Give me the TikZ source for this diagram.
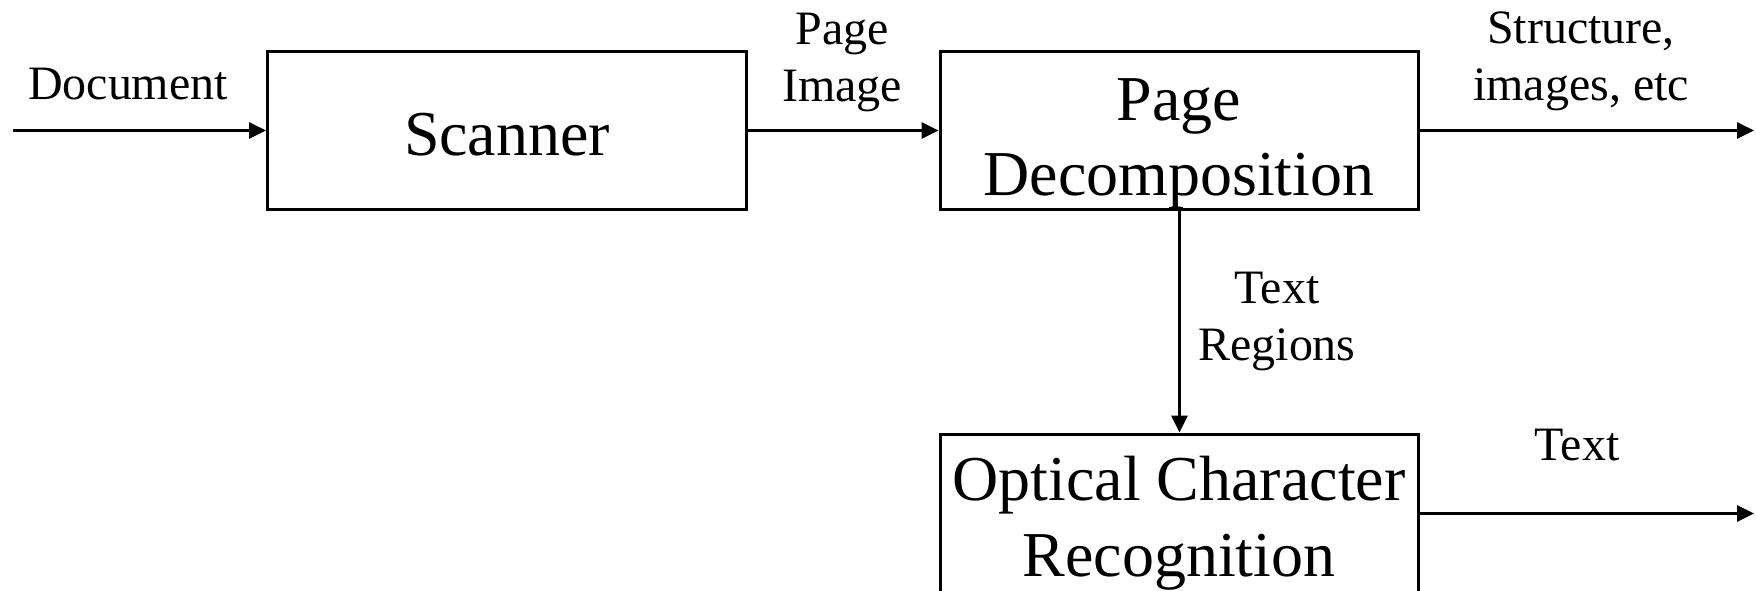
\documentclass[tikz,border=0pt]{standalone}
\usepackage{fontspec}
\setmainfont{Liberation Serif}
\usetikzlibrary{calc}
\usetikzlibrary{arrows.meta}

\begin{document}
\begin{tikzpicture}[x=0.02cm,y=-0.02cm]
\useasboundingbox (0,0) rectangle (1756,591);
\tikzset{
    blockbox/.style={draw,line width=1.7pt,minimum width=9.58cm,minimum height=3.18cm,inner sep=0pt},
    blocktext/.style={font=\fontsize{36.4}{43}\selectfont,align=center,inner sep=0pt},
    flowlabel/.style={font=\fontsize{27.3}{33}\selectfont,align=center,inner sep=0pt},
    flow/.style={line width=1.7pt,-{Triangle[length=0.34cm,width=0.32cm]}}
}
%free ends of the outer arrows
\coordinate (docin) at (13,130.5);
\coordinate (pdout) at (1754,130.5);
\coordinate (ocrout) at (1754,513.5);

%blocks
\node[blockbox] (scanner) at (507,130.5) {};
\node[blockbox] (pagedec) at (1179.5,130.5) {};
\node[blockbox] (ocr) at (1179.5,513.5) {};

%text in the blocks (base = last line)
\node[blocktext,anchor=base] (scannertext) at (507,156) {Scanner};
\node[blocktext,anchor=base] (pagedectext) at (1179,196) {Page\\Decomposition};
\node[blocktext,anchor=base] (ocrtext) at (1179,576) {Optical Character\\Recognition};

%labels
\node[flowlabel,anchor=base] (doclabel) at (128,100) {Document};
\node[flowlabel,anchor=base] (imglabel) at (842,102) {Page\\Image};
\node[flowlabel,anchor=base] (structlabel) at (1581,101) {Structure,\\images, etc};
\node[flowlabel,anchor=base] (regionlabel) at (1277,361) {Text\\Regions};
\node[flowlabel,anchor=base] (textlabel) at (1577,460) {Text};

%arrows
\draw[flow] (docin) -- (scanner.west);
\draw[flow] (scanner) -- (pagedec);
\draw[flow] (pagedec) -- (pdout);
\draw[flow] (pagedec) -- (ocr);
\draw[flow] (ocr) -- (ocrout);
\end{tikzpicture}
\end{document}
